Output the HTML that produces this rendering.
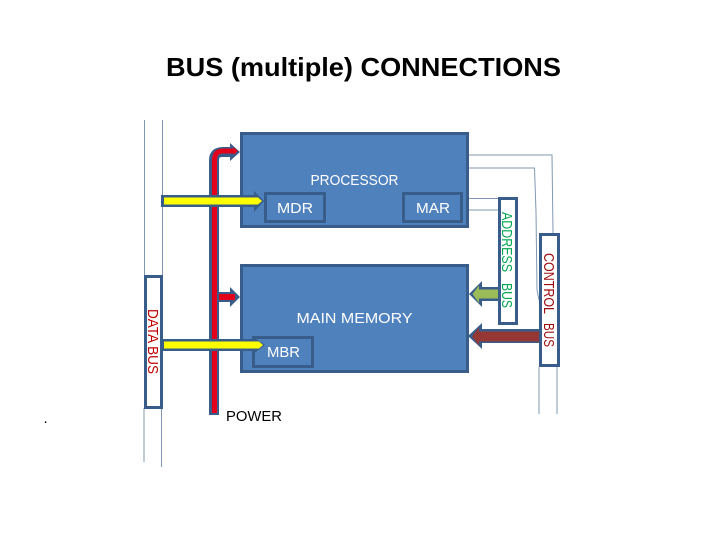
<!DOCTYPE html>
<html>
<head>
<meta charset="utf-8">
<style>
html,body{margin:0;padding:0;background:#fff;width:720px;height:540px;overflow:hidden}
svg{display:block}
text{font-family:"Liberation Sans",sans-serif}
</style>
</head>
<body>
<svg width="720" height="540" viewBox="0 0 720 540" xmlns="http://www.w3.org/2000/svg">
<rect width="720" height="540" fill="#fff"/>
<text x="363.5" y="76" text-anchor="middle" font-size="26" font-weight="bold" fill="#000" textLength="395" lengthAdjust="spacingAndGlyphs">BUS (multiple) CONNECTIONS</text>

<!-- thin bus lines -->
<g fill="none" stroke="#7f98b2" stroke-width="1">
<path d="M144.500 120V276M162.500 120V276"/>
<path d="M144 408V462M161.500 408V467"/>
<path d="M469 155H552L553 233"/>
<path d="M469 168H534.500L536 212L537 290L539 300"/>
<path d="M463 198.500H498M469 210H498"/>
<path d="M539 367V414M557 367V414"/>
</g>

<!-- blocks -->
<rect x="241.500" y="133.500" width="226" height="93" fill="#4f81bd" stroke="#385d8a" stroke-width="3"/>
<rect x="241.500" y="265.500" width="226" height="106" fill="#4f81bd" stroke="#385d8a" stroke-width="3"/>
<rect x="265.500" y="193.500" width="59" height="28" fill="#4f81bd" stroke="#385d8a" stroke-width="3"/>
<rect x="403.500" y="193.500" width="58" height="28" fill="#4f81bd" stroke="#385d8a" stroke-width="3"/>
<rect x="253.500" y="337.500" width="59" height="29" fill="#4f81bd" stroke="#385d8a" stroke-width="3"/>

<!-- bus boxes -->
<rect x="145.500" y="276.500" width="16" height="131" fill="#fff" stroke="#385d8a" stroke-width="3"/>
<rect x="499.500" y="198.500" width="17" height="125" fill="#fff" stroke="#385d8a" stroke-width="3"/>
<rect x="540.500" y="234.500" width="18" height="131" fill="#fff" stroke="#385d8a" stroke-width="3"/>

<!-- power bus -->
<path d="M214 415V160Q214 152 223 152H231" fill="none" stroke="#385d8a" stroke-width="10"/>
<path d="M230 143L240 152L230 161Z" fill="#385d8a"/>
<path d="M214.500 413V160Q214.500 151 223 151H236" fill="none" stroke="#e3001b" stroke-width="5"/>
<path d="M233 147.500L238 151L233 154.500Z" fill="#e3001b"/>

<!-- memory power arrow -->
<path d="M217 292H230V287L240 297L230 307V302H217Z" fill="#385d8a"/>
<path d="M219 294H235V300H219Z" fill="#e3001b"/>

<!-- yellow arrows -->
<path d="M161 195H254V191L264 201L254 212V207H161Z" fill="#385d8a"/>
<path d="M164 197.500H258L262 201L258 204.500H164Z" fill="#ffff00"/>
<path d="M162 339H252V336L265 345L252 355V351H162Z" fill="#385d8a"/>
<path d="M164 341.500H259L263 345L259 348.500H164Z" fill="#ffff00"/>

<!-- green arrow -->
<path d="M498 287H482V281L469 294L482 307V301H498Z" fill="#385d8a"/>
<path d="M498 289.500H479V285.500L472.500 294L479 303V298.500H498Z" fill="#9bbb59"/>
<!-- dark red arrow -->
<path d="M539 329H482V323L468 336L482 349V343H539Z" fill="#385d8a"/>
<path d="M539 331.500H479V327.500L472 336.500L479 345.500V341.500H539Z" fill="#953735"/>

<!-- labels -->
<g fill="#fff" font-size="15">
<text x="354.500" y="185" text-anchor="middle" textLength="88" lengthAdjust="spacingAndGlyphs">PROCESSOR</text>
<text x="295" y="213" text-anchor="middle" textLength="36" lengthAdjust="spacingAndGlyphs">MDR</text>
<text x="433" y="213" text-anchor="middle" textLength="34" lengthAdjust="spacingAndGlyphs">MAR</text>
<text x="354.500" y="323" text-anchor="middle" textLength="116" lengthAdjust="spacingAndGlyphs">MAIN MEMORY</text>
<text x="283.500" y="357" text-anchor="middle" textLength="33" lengthAdjust="spacingAndGlyphs">MBR</text>
</g>
<text x="226" y="421" font-size="15" fill="#000" textLength="56" lengthAdjust="spacingAndGlyphs">POWER</text>
<text x="43.500" y="423" font-size="15" fill="#000">.</text>

<text transform="translate(148,309) rotate(90)" font-size="15" fill="#c00000" textLength="65" lengthAdjust="spacingAndGlyphs">DATA BUS</text>
<text transform="translate(502,212) rotate(90)" font-size="15" fill="#00a651" textLength="60" lengthAdjust="spacingAndGlyphs">ADDRESS</text>
<text transform="translate(502,283) rotate(90)" font-size="15" fill="#00a651" textLength="25" lengthAdjust="spacingAndGlyphs">BUS</text>
<text transform="translate(544,253) rotate(90)" font-size="15" fill="#9e0b0f" textLength="61" lengthAdjust="spacingAndGlyphs">CONTROL</text>
<text transform="translate(544,323) rotate(90)" font-size="15" fill="#9e0b0f" textLength="24" lengthAdjust="spacingAndGlyphs">BUS</text>
</svg>
</body>
</html>
